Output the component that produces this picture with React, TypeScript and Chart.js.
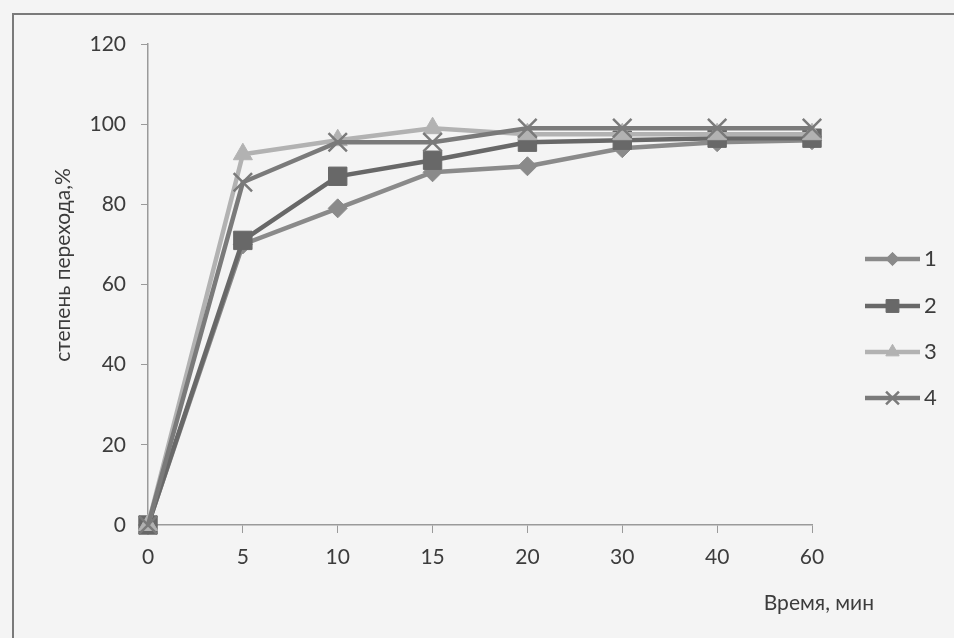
import React, { useEffect, useRef } from "react";
import { Chart, registerables } from "chart.js";
import { drawPoint } from "chart.js/helpers";

Chart.register(...registerables);

const timeLabels = ["0", "5", "10", "15", "20", "30", "40", "60"];
const series1 = [0, 70, 79, 88, 89.5, 94, 95.5, 96];
const series2 = [0, 71, 87, 91, 95.5, 96, 96.5, 96.5];
const series3 = [0, 92.5, 96, 99, 97.5, 97.5, 97.5, 97.5];
const series4 = [0, 85.5, 95.5, 95.5, 99, 99, 99, 99];
const seriesNames = ["1", "2", "3", "4"];
const yTitle = "степень перехода,%";
const xTitle = "Время, мин";

const FONT = "Lato, 'Open Sans', sans-serif";
const TEXT = "#3c3c3c";

const styles = [
  { color: "#8a8a8a", pointStyle: "rectRot", radius: 9.5, pbw: 1 },
  { color: "#686868", pointStyle: "rect", radius: 13, pbw: 1 },
  { color: "#b2b2b2", pointStyle: "triangle", radius: 11, pbw: 1 },
  { color: "#7a7a7a", pointStyle: "crossRot", radius: 13, pbw: 2.5 },
];

const extrasPlugin = {
  id: "extras",
  afterDraw(chart: any) {
    const ctx = chart.ctx as CanvasRenderingContext2D;
    const area = chart.chartArea;
    ctx.save();
    ctx.fillStyle = TEXT;
    ctx.font = `21px ${FONT}`;
    ctx.textAlign = "center";
    ctx.textBaseline = "middle";
    ctx.translate(63, 265);
    ctx.rotate(-Math.PI / 2);
    ctx.fillText(yTitle, 0, 0);
    ctx.restore();

    ctx.save();
    ctx.fillStyle = TEXT;
    ctx.font = `21px ${FONT}`;
    ctx.textAlign = "right";
    ctx.textBaseline = "middle";
    ctx.fillText(xTitle, area.right + 62, 603);
    ctx.restore();

    const lx0 = area.right + 53;
    const lx1 = area.right + 108;
    const ys = [259, 306, 352, 398];
    chart.data.datasets.forEach((ds: any, i: number) => {
      const y = ys[i];
      const st = styles[i];
      ctx.save();
      ctx.strokeStyle = st.color;
      ctx.lineWidth = 4.5;
      ctx.beginPath();
      ctx.moveTo(lx0, y);
      ctx.lineTo(lx1, y);
      ctx.stroke();
      ctx.fillStyle = st.color;
      ctx.strokeStyle = st.color;
      ctx.lineWidth = st.pbw;
      drawPoint(ctx, { pointStyle: st.pointStyle as any, radius: st.radius * 0.7, borderWidth: st.pbw, rotation: 0 } as any, (lx0 + lx1) / 2, y);
      ctx.fillStyle = TEXT;
      ctx.font = `22px ${FONT}`;
      ctx.textAlign = "left";
      ctx.textBaseline = "middle";
      ctx.fillText(ds.label, lx1 + 4, y);
      ctx.restore();
    });
  },
};

export default function App() {
  const ref = useRef<HTMLCanvasElement | null>(null);
  useEffect(() => {
    document.body.style.margin = "0";
    const all = [series1, series2, series3, series4];
    const chart = new Chart(ref.current as HTMLCanvasElement, {
      type: "line",
      data: {
        labels: timeLabels,
        datasets: all.map((d, i) => ({
          label: seriesNames[i],
          data: d,
          borderColor: styles[i].color,
          backgroundColor: styles[i].color,
          pointBackgroundColor: styles[i].color,
          pointBorderColor: styles[i].color,
          pointStyle: styles[i].pointStyle as any,
          pointRadius: styles[i].radius,
          pointBorderWidth: styles[i].pbw,
          borderWidth: 4.5,
          tension: 0,
          clip: false as any,
          order: 4 - i,
        })),
      },
      options: {
        animation: false,
        responsive: false,
        devicePixelRatio: 1,
        layout: { padding: { top: 44, right: 142, left: 0, bottom: 0 } },
        plugins: { legend: { display: false }, tooltip: { enabled: false } },
        scales: {
          x: {
            type: "category",
            offset: false,
            afterFit: (s: any) => {
              s.height = 113;
            },
            grid: { drawOnChartArea: false, drawTicks: true, tickLength: 8, color: "#9a9a9a", offset: false },
            border: { color: "#9a9a9a", width: 1.5 },
            ticks: { color: TEXT, font: { family: FONT, size: 21 }, padding: 12, maxRotation: 0, autoSkip: false },
          },
          y: {
            min: 0,
            max: 120,
            afterFit: (s: any) => {
              s.width = 148;
            },
            grid: { drawOnChartArea: false, drawTicks: true, tickLength: 7, color: "#9a9a9a" },
            border: { color: "#9a9a9a", width: 1.5 },
            ticks: { stepSize: 20, color: TEXT, font: { family: FONT, size: 21 }, padding: 15 },
          },
        },
      },
      plugins: [extrasPlugin],
    });
    return () => chart.destroy();
  }, []);
  return (
    <div style={{ position: "relative", width: 954, height: 638, background: "#f4f4f4", overflow: "hidden" }}>
      <div
        style={{
          position: "absolute",
          left: 12,
          top: 13,
          width: 1000,
          height: 700,
          borderLeft: "2px solid #7a7a7a",
          borderTop: "2px solid #7a7a7a",
        }}
      />
      <canvas ref={ref} width={954} height={638} style={{ position: "absolute", left: 0, top: 0 }} />
    </div>
  );
}
